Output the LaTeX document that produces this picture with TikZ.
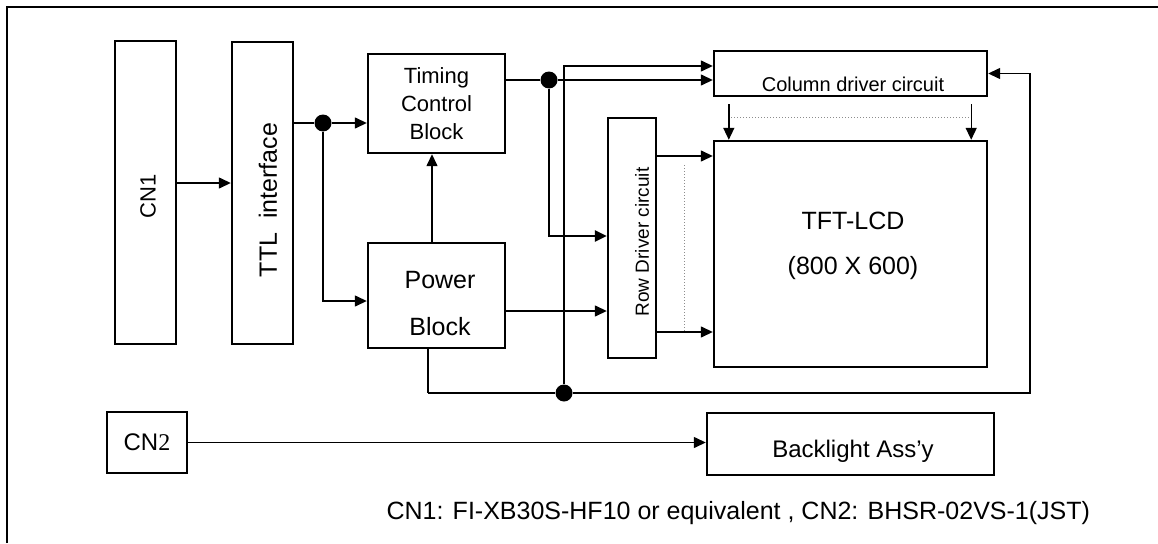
\documentclass[tikz,border=0pt]{standalone}
\usepackage{fontspec}
\setmainfont{Liberation Sans}
\newfontfamily\serifdigit{Liberation Serif}
\usetikzlibrary{positioning,arrows.meta,calc}
\definecolor{lcdink}{HTML}{000000}
\definecolor{lcddot}{HTML}{8C8C8C}

\begin{document}
\begin{tikzpicture}[x=1pt, y=-1pt,
  blk/.style={draw=lcdink, line width=2.4pt, inner sep=0pt, align=center},
  fs/.style 2 args={font=\fontsize{#1}{#2}\selectfont},
  wire/.style={draw=lcdink, line width=1.4pt},
  bus/.style={draw=lcdink, line width=2.6pt},
  arr/.style={wire, -{Triangle[length=12pt, width=11pt]}},
  jdot/.style={circle, fill=lcdink, inner sep=0pt, minimum size=17pt},
  dots/.style={draw=lcddot, line width=1pt, dotted}]
\useasboundingbox (0,0) rectangle (1158,543);
\draw[line width=2pt] (7,543) -- (7,7) -- (1158,7);
% ===== left: connector and interface =====
\node[blk, minimum width=61pt, minimum height=303pt] (CN1) at (145.5,192.5) {};
\node[fs={22}{26}, rotate=90] (cn1txt) at (148,196) {CN1};
\node[blk, minimum width=61pt, minimum height=302pt] (TTL) at (262.5,193) {};
\node[fs={25}{30}, rotate=90] (ttltxt) at (268,200) {TTL\ \ interface};
\draw[arr] (CN1.east |- 0,183) -- (TTL.west |- 0,183);
% ===== middle: timing and power =====
\node[blk, fs={22}{28}, minimum width=137pt, minimum height=99pt] (Timing) at (436.5,103.5) {Timing\\Control\\Block};
\node[blk, minimum width=137pt, minimum height=105pt] (Power) at (436.5,295.5) {};
\node[fs={25}{47}, align=center] (pwrtxt) at (440,304) {Power\\Block};
\node[jdot] (j1) at (323,123) {};
\draw[wire] (TTL.east |- j1) -- (j1);
\draw[arr] (j1) -- (j1 -| Timing.west);
\draw[arr] (j1) |- (Power.west |- 0,301);
\draw[arr] ([xshift=-4.5pt]Power.north) -- ([xshift=-4.5pt]Timing.south);
% ===== right: drivers and panel =====
\node[blk, minimum width=48pt, minimum height=240pt] (Row) at (632,238) {};
\node[fs={19}{23}, rotate=90] (rowtxt) at (642,242) {Row Driver circuit};
\node[blk, minimum width=273pt, minimum height=45pt] (Col) at (850.5,73.5) {};
\node[fs={20}{24}] (coltxt) at (853,84) {Column driver circuit};
\node[blk, minimum width=273pt, minimum height=226pt] (TFT) at (850.5,254) {};
\node[fs={25}{45}, align=center] (tfttxt) at (853,246) {TFT-LCD\\(800 X 600)};
\node[jdot] (j2) at (549,80) {};
\draw[wire] (Timing.east |- j2) -- (j2);
\draw[arr] (j2) -- (j2 -| Col.west);
\draw[arr, line width=2.4pt] (j2) |- (Row.west |- 0,236);
\draw[arr] (Power.east |- 0,311) -- (Row.west |- 0,311);
\draw[arr] (Row.east |- 0,156) -- (TFT.west |- 0,156);
\draw[arr] (Row.east |- 0,332) -- (TFT.west |- 0,332);
\draw[dots] (684,165) -- (684,331);
\draw[arr] ([xshift=16pt, yshift=-7pt]Col.south west) -- ([xshift=16pt]TFT.north west);
\draw[arr] ([xshift=-17pt, yshift=-7pt]Col.south east) -- ([xshift=-17pt]TFT.north east);
\draw[dots] (731,117) -- (969,117);
% ===== supply return and feedback =====
\node[jdot] (j3) at (564,393) {};
\coordinate (pb) at (428,393);
\draw[bus] ([xshift=-8.5pt]Power.south) -- (pb);
\draw[wire] (pb) -- (j3);
\draw[arr] (j3) |- ([yshift=7.5pt]Col.west);
\draw[arr] (j3) -- (j3 -| 1030,0) |- (Col.east);
% ===== backlight =====
\node[blk, fs={24}{28}, minimum width=80pt, minimum height=61pt] (CN2) at (147,442.5) {CN{\serifdigit 2}};
\node[blk, minimum width=287pt, minimum height=62pt] (BL) at (850.5,444) {};
\node[fs={24}{28}] (bltxt) at (853,451) {Backlight Ass’y};
\draw[arr] (CN2.east) -- (CN2.east -| BL.west);
\node[fs={25}{30}, anchor=west] (note) at (383,513) {CN1: FI-XB30S-HF10 or equivalent , CN2: BHSR-02VS-1(JST)};
\end{tikzpicture}
\end{document}
